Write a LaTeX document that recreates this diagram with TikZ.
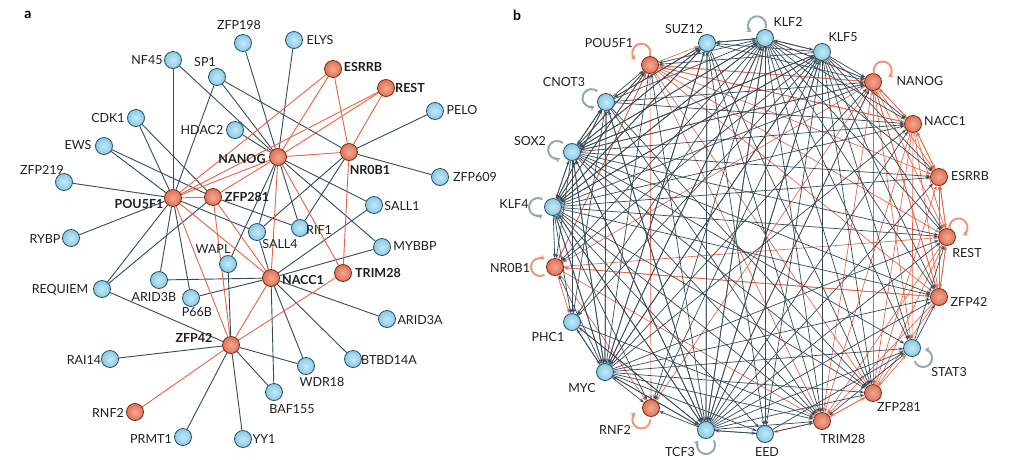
\documentclass[tikz,border=0pt]{standalone}
\usepackage{fontspec}
\setmainfont{Lato}
\usetikzlibrary{arrows.meta,backgrounds}
\definecolor{edk}{RGB}{55,74,88}
\definecolor{eor}{RGB}{232,98,64}
\definecolor{nbl}{RGB}{135,203,232}
\definecolor{nblD}{RGB}{38,78,98}
\definecolor{nor}{RGB}{228,112,82}
\definecolor{norD}{RGB}{110,45,25}
\definecolor{lpg}{RGB}{150,168,182}
\definecolor{lpo}{RGB}{240,150,120}
\definecolor{txt}{RGB}{30,30,30}
\newcommand{\sloop}[5]{\draw[#5] (#1.center) ++(#2:15pt) ++(#3:9pt) arc[start angle=#3, end angle=#4, radius=9pt];}
\begin{document}
\begin{tikzpicture}[x=1pt,y=-1pt,
  bn/.style={circle, draw=nblD, line width=0.8pt, inner sep=0pt, minimum size=17pt, inner color=nbl!45!white, outer color=nbl},
  on/.style={circle, draw=norD, line width=0.8pt, inner sep=0pt, minimum size=17pt, inner color=nor!60!white, outer color=nor},
  lab/.style={text=txt, inner sep=0pt, font=\fontsize{12.5}{14}\selectfont},
  blab/.style={text=txt, inner sep=0pt, font=\fontsize{12.5}{14}\selectfont\bfseries},
  ea/.style={edk, line width=0.9pt},
  ear/.style={eor, line width=0.9pt},
  eb/.style={edk, line width=0.7pt, -{Stealth[length=4.5pt,width=3.2pt]}},
  ebr/.style={eor, line width=0.65pt, -{Stealth[length=4.5pt,width=3.2pt]}},
  lpb/.style={lpg, line width=2pt, -{Stealth[length=4.5pt,width=6pt]}},
  lpr/.style={lpo, line width=2pt, -{Stealth[length=4.5pt,width=6pt]}},
  plab/.style={text=black, inner sep=0pt, font=\fontsize{14}{16}\selectfont\bfseries}]
\useasboundingbox (0,0) rectangle (1024,459);
\node[plab] (pa) at (28,15) {a};
\node[plab] (pb) at (517,15) {b};
% ---------------- panel a nodes
\node[bn] (a-nf45) at (173,60) {};
\node[bn] (a-zfp198) at (243,43) {};
\node[bn] (a-elys) at (294,40) {};
\node[bn] (a-sp1) at (217,77) {};
\node[bn] (a-cdk1) at (136,118) {};
\node[bn] (a-hdac2) at (235,130) {};
\node[bn] (a-ews) at (104,146) {};
\node[bn] (a-zfp219) at (64,182) {};
\node[on] (a-pou) at (173,198) {};
\node[on] (a-zfp281) at (213,197) {};
\node[on] (a-nanog) at (278,157) {};
\node[on] (a-esrrb) at (333,69) {};
\node[on] (a-rest) at (386,88) {};
\node[bn] (a-pelo) at (435,111) {};
\node[on] (a-nr0b1) at (349,152) {};
\node[bn] (a-zfp609) at (440,177) {};
\node[bn] (a-sall1) at (374,205) {};
\node[bn] (a-rif1) at (300,228) {};
\node[bn] (a-sall4) at (257,232) {};
\node[bn] (a-mybbp) at (382,247) {};
\node[bn] (a-wapl) at (228,264) {};
\node[on] (a-nacc1) at (271,278) {};
\node[on] (a-trim28) at (343,273) {};
\node[bn] (a-arid3b) at (159,280) {};
\node[bn] (a-p66b) at (191,298) {};
\node[bn] (a-req) at (102,289) {};
\node[bn] (a-rybp) at (71,238) {};
\node[on] (a-zfp42) at (231,345) {};
\node[bn] (a-rai14) at (110,359) {};
\node[on] (a-rnf2) at (135,412) {};
\node[bn] (a-prmt1) at (183,437) {};
\node[bn] (a-yy1) at (243,439) {};
\node[bn] (a-baf155) at (274,392) {};
\node[bn] (a-wdr18) at (306,366) {};
\node[bn] (a-btbd) at (353,359) {};
\node[bn] (a-arid3a) at (387,319) {};
% panel a labels
\node[lab] (la-nf45) at (147,60) {NF45};
\node[lab] (la-zfp198) at (239,25) {ZFP198};
\node[lab] (la-elys) at (320,40) {ELYS};
\node[lab] (la-sp1) at (205,62) {SP1};
\node[lab] (la-cdk1) at (108,118) {CDK1};
\node[lab] (la-hdac2) at (202,130) {HDAC2};
\node[lab] (la-ews) at (78,145) {EWS};
\node[lab] (la-zfp219) at (42,170) {ZFP219};
\node[blab] (la-pou) at (139,204) {POU5F1};
\node[blab] (la-zfp281) at (247,197) {ZFP281};
\node[blab] (la-nanog) at (242,159) {NANOG};
\node[blab] (la-esrrb) at (363,67) {ESRRB};
\node[blab] (la-rest) at (410,88) {REST};
\node[lab] (la-pelo) at (462,110) {PELO};
\node[blab] (la-nr0b1) at (370,170) {NR0B1};
\node[lab] (la-zfp609) at (475,177) {ZFP609};
\node[lab] (la-sall1) at (402,206) {SALL1};
\node[lab] (la-rif1) at (319,230) {RIF1};
\node[lab] (la-sall4) at (280,244) {SALL4};
\node[lab] (la-mybbp) at (415,246) {MYBBP};
\node[lab] (la-wapl) at (213,249) {WAPL};
\node[blab] (la-nacc1) at (303,280) {NACC1};
\node[blab] (la-trim28) at (378,273) {TRIM28};
\node[lab] (la-arid3b) at (154,297) {ARID3B};
\node[lab] (la-p66b) at (197,312) {P66B};
\node[lab] (la-req) at (60,290) {REQUIEM};
\node[lab] (la-rybp) at (45,239) {RYBP};
\node[blab] (la-zfp42) at (194,338) {ZFP42};
\node[lab] (la-rai14) at (84,360) {RAI14};
\node[lab] (la-rnf2) at (108,413) {RNF2};
\node[lab] (la-prmt1) at (151,439) {PRMT1};
\node[lab] (la-yy1) at (264,439) {YY1};
\node[lab] (la-baf155) at (292,409) {BAF155};
\node[lab] (la-wdr18) at (322,382) {WDR18};
\node[lab] (la-btbd) at (389,360) {BTBD14A};
\node[lab] (la-arid3a) at (420,320) {ARID3A};
% ---------------- panel b nodes
\node[on] (b-pou) at (650,65) {};
\node[bn] (b-suz) at (707,43) {};
\node[bn] (b-klf2) at (765,38) {};
\node[bn] (b-klf5) at (822,52) {};
\node[on] (b-nanog) at (873,82) {};
\node[on] (b-nacc) at (913,124) {};
\node[on] (b-esrrb) at (939,177) {};
\node[on] (b-rest) at (947,237) {};
\node[on] (b-zfp42) at (939,297) {};
\node[bn] (b-stat3) at (912,348) {};
\node[on] (b-zfp281) at (873,393) {};
\node[on] (b-trim) at (822,421) {};
\node[bn] (b-eed) at (765,434) {};
\node[bn] (b-tcf3) at (706,430) {};
\node[on] (b-rnf2) at (651,408) {};
\node[bn] (b-myc) at (605,372) {};
\node[bn] (b-phc1) at (572,322) {};
\node[on] (b-nr0b1) at (555,267) {};
\node[bn] (b-klf4) at (553,207) {};
\node[bn] (b-sox2) at (572,152) {};
\node[bn] (b-cnot3) at (606,102) {};
% panel b labels
\node[lab] (lb-pou) at (609,43) {POU5F1};
\node[lab] (lb-suz) at (684,29) {SUZ12};
\node[lab] (lb-klf2) at (788,22) {KLF2};
\node[lab] (lb-klf5) at (843,37) {KLF5};
\node[lab] (lb-nanog) at (920,81) {NANOG};
\node[lab] (lb-nacc) at (945,121) {NACC1};
\node[lab] (lb-esrrb) at (970,176) {ESRRB};
\node[lab] (lb-rest) at (967,253) {REST};
\node[lab] (lb-zfp42) at (969,302) {ZFP42};
\node[lab] (lb-stat3) at (949,372) {STAT3};
\node[lab] (lb-zfp281) at (899,407) {ZFP281};
\node[lab] (lb-trim) at (843,439) {TRIM28};
\node[lab] (lb-eed) at (767,452) {EED};
\node[lab] (lb-tcf3) at (680,452) {TCF3};
\node[lab] (lb-rnf2) at (615,430) {RNF2};
\node[lab] (lb-myc) at (582,388) {MYC};
\node[lab] (lb-phc1) at (548,337) {PHC1};
\node[lab] (lb-nr0b1) at (510,268) {NR0B1};
\node[lab] (lb-klf4) at (514,204) {KLF4};
\node[lab] (lb-sox2) at (530,141) {SOX2};
\node[lab] (lb-cnot3) at (564,82) {CNOT3};
% ---------------- edges
\begin{pgfonlayer}{background}
% panel a dark
\foreach \u/\v in {nf45/pou, nf45/nanog, sp1/pou, sp1/nanog, sp1/nr0b1, zfp198/nanog, elys/nanog, cdk1/pou, cdk1/zfp281, ews/pou, ews/zfp281, zfp219/pou, rybp/pou, req/pou, req/zfp281, req/zfp42, arid3b/pou, arid3b/nacc1, p66b/pou, p66b/nacc1, wapl/nanog, wapl/zfp42, hdac2/nanog, sall4/nanog, sall4/nacc1, sall4/pou, sall4/nr0b1, rif1/nanog, rif1/nr0b1, rif1/zfp281, sall1/nanog, sall1/nacc1, mybbp/nanog, mybbp/nacc1, pelo/nr0b1, zfp609/nr0b1, nacc1/arid3a, nacc1/btbd, nacc1/wdr18, nacc1/baf155, zfp42/rai14, zfp42/prmt1, zfp42/yy1, zfp42/baf155, zfp42/wdr18}
  \draw[ea] (a-\u) -- (a-\v);
% panel a orange
\foreach \u/\v in {pou/nanog, pou/esrrb, pou/rest, pou/zfp281, pou/nacc1, pou/zfp42, zfp281/nanog, zfp281/nacc1, zfp281/zfp42, nanog/esrrb, nanog/rest, nanog/nr0b1, nanog/nacc1, nanog/trim28, esrrb/nr0b1, rest/nr0b1, nr0b1/trim28, nacc1/zfp42, trim28/zfp42, rnf2/zfp42}
  \draw[ear] (a-\u) -- (a-\v);
% panel b orange (drawn first, under the dark ones)
\foreach \t in {pou, klf2, nacc, esrrb, rest, zfp42, stat3, zfp281, trim, rnf2, nr0b1, sox2, tcf3} \draw[ebr] (b-nanog) -- (b-\t);
\foreach \t in {nanog, esrrb, rest, zfp42, zfp281, trim, stat3, pou} \draw[ebr] (b-nacc) -- (b-\t);
\foreach \t in {suz, nanog, nacc, esrrb, rest, zfp42, zfp281, trim, rnf2, nr0b1, klf4, sox2} \draw[ebr] (b-pou) -- (b-\t);
\foreach \t in {rest, esrrb, nanog, trim, zfp281, nr0b1} \draw[ebr] (b-zfp42) -- (b-\t);
\foreach \t in {rest, zfp42, pou, trim, rnf2, phc1} \draw[ebr] (b-nr0b1) -- (b-\t);
\foreach \t in {trim, stat3, rest, nanog, esrrb} \draw[ebr] (b-zfp281) -- (b-\t);
\foreach \t in {zfp42, esrrb, trim} \draw[ebr] (b-rest) -- (b-\t);
\foreach \t in {zfp281, eed} \draw[ebr] (b-trim) -- (b-\t);
\foreach \t in {rest, nacc} \draw[ebr] (b-esrrb) -- (b-\t);
% panel b dark
\foreach \t in {pou, suz, klf2, klf5, nanog, nacc, esrrb, rest, zfp42, stat3, zfp281, trim, tcf3, myc, phc1, klf4, cnot3, nr0b1} \draw[eb] (b-sox2) -- (b-\t);
\foreach \t in {pou, suz, klf2, klf5, nanog, nacc, esrrb, rest, zfp42, zfp281, trim, eed, tcf3, rnf2, myc, phc1, nr0b1, sox2, cnot3} \draw[eb] (b-klf4) -- (b-\t);
\foreach \t in {pou, suz, klf2, klf5, nanog, nacc, rest, zfp42, stat3, zfp281, trim, eed, tcf3, rnf2, phc1, nr0b1, klf4, sox2, cnot3} \draw[eb] (b-myc) -- (b-\t);
\foreach \t in {pou, suz, klf2, klf5, nanog, nacc, esrrb, rest, zfp42, stat3, zfp281, trim, eed, rnf2, myc, phc1, klf4, sox2, cnot3} \draw[eb] (b-tcf3) -- (b-\t);
\foreach \t in {pou, suz, klf5, nanog, nacc, rest, trim, tcf3, myc, sox2, klf4, phc1, eed, zfp281, zfp42, stat3, rnf2, esrrb, nr0b1} \draw[eb] (b-klf2) -- (b-\t);
\foreach \t in {klf2, nanog, nacc, suz, pou, zfp42, trim, tcf3, myc, sox2, phc1, stat3, rest, esrrb, zfp281, rnf2, eed, klf4, nr0b1} \draw[eb] (b-klf5) -- (b-\t);
\foreach \t in {pou, suz, klf2, nanog, sox2, klf4, myc, tcf3, trim, zfp281, phc1, nacc} \draw[eb] (b-cnot3) -- (b-\t);
\foreach \t in {klf2, sox2, cnot3, myc, tcf3, eed, klf4, zfp281, trim, nanog} \draw[eb] (b-suz) -- (b-\t);
\foreach \t in {zfp42, rest, trim} \draw[eb] (b-stat3) -- (b-\t);
\foreach \t in {tcf3, myc, trim} \draw[eb] (b-phc1) -- (b-\t);
\foreach \t in {tcf3, trim, stat3} \draw[eb] (b-eed) -- (b-\t);
\end{pgfonlayer}
% self loops
\sloop{b-pou}{125}{-20}{230}{lpr}
\sloop{b-klf2}{122}{-20}{230}{lpb}
\sloop{b-nanog}{50}{200}{-50}{lpr}
\sloop{b-rest}{40}{190}{-60}{lpr}
\sloop{b-stat3}{-42}{-160}{80}{lpb}
\sloop{b-tcf3}{-90}{30}{-210}{lpb}
\sloop{b-rnf2}{-130}{0}{-230}{lpr}
\sloop{b-nr0b1}{180}{300}{60}{lpr}
\sloop{b-klf4}{180}{60}{300}{lpb}
\sloop{b-sox2}{172}{50}{290}{lpb}
\sloop{b-cnot3}{165}{50}{290}{lpb}
\end{tikzpicture}
\end{document}
